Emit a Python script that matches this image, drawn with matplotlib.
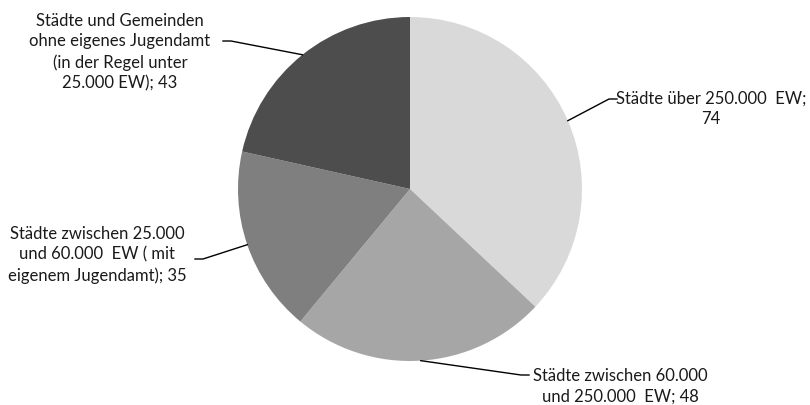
import numpy as np
import matplotlib.pyplot as plt

labels = ['Städte über 250.000  EW;\n74',
          'Städte zwischen 60.000\nund 250.000  EW; 48',
          'Städte zwischen 25.000\nund 60.000  EW ( mit\neigenem Jugendamt); 35',
          'Städte und Gemeinden\nohne eigenes Jugendamt\n(in der Regel unter\n25.000 EW); 43']
values = [74, 48, 35, 43]
colors = ['#d9d9d9', '#a6a6a6', '#7f7f7f', '#4d4d4d']

plt.rcParams['font.family'] = ['Lato', 'DejaVu Sans']

fig = plt.figure(figsize=(8.1, 4.06), dpi=100)
ax = fig.add_axes([0, 0, 1, 1])

cx, cy, r = 410, 216, 172
wedges, _ = ax.pie(values, colors=colors, startangle=90, counterclock=False,
                   center=(cx, cy), radius=r, frame=True)
ax.set_xlim(0, 810)
ax.set_ylim(0, 406)
ax.set_aspect('equal')
ax.axis('off')

# end of leader line and text centre, in pixels from top-left
anchors = [(617, 100), (529, 376), (195, 260), (223, 42)]
text_pos = [(711, 109), (620, 386), (97, 255), (120, 52)]

for w, (lx, ly), (tx, ty), lab in zip(wedges, anchors, text_pos, labels):
    ang = np.deg2rad((w.theta1 + w.theta2) / 2)
    ex = cx + r * np.cos(ang)
    ey = cy + r * np.sin(ang)
    ly = 406 - ly
    if lx > cx:
        mid = lx - 8
    else:
        mid = lx + 8
    ax.plot([ex, mid, lx], [ey, ly, ly], color='black', lw=1)
    ax.text(tx, 406 - ty, lab, ha='center', va='center', fontsize=12,
            linespacing=1.35, color='#1a1a1a')

plt.savefig('out.png', dpi=100)
